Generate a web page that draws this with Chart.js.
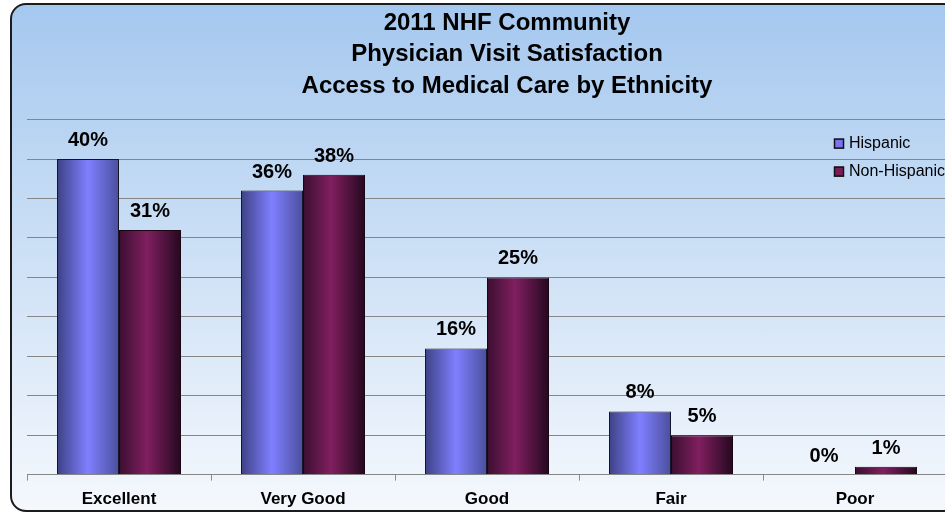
<!DOCTYPE html>
<html>
<head>
<meta charset="utf-8">
<script src="https://cdn.jsdelivr.net/npm/chart.js@4.4.1/dist/chart.umd.min.js"></script>
<style>
    html, body {
        margin: 0;
        padding: 0;
        width: 945px;
        height: 514px;
        overflow: hidden;
        background: #ffffff;
    }
    .frame {
        position: absolute;
        left: 10px;
        top: 3px;
        width: 946px;
        height: 505px;
        border: 2px solid #1c1c1c;
        border-radius: 16px;
        background: linear-gradient(to bottom, #a5c8ef 0%, #c9def5 45%, #f5f8fd 100%);
    }
    #satisfactionChart {
        position: absolute;
        left: 0;
        top: 0;
    }
</style>
</head>
<body>
<div class="frame"></div>
<canvas id="satisfactionChart" width="987" height="524"></canvas>

<script>
// Survey results (% of respondents)
const categories = ['Excellent', 'Very Good', 'Good', 'Fair', 'Poor'];
const hispanic = [40, 36, 16, 8, 0];
const nonHispanic = [31, 38, 25, 5, 1];
const seriesNames = ['Hispanic', 'Non-Hispanic'];
const titleLines = [
    '2011 NHF Community',
    'Physician Visit Satisfaction',
    'Access to Medical Care by Ethnicity'
];

const FONT = 'Arial, "Liberation Sans", sans-serif';
const GROUP_PCT = 0.674;

// Cylinder-like shading across each bar
const hispanicStops = [[0, '#3d4184'], [0.5, '#8080ff'], [1, '#4a4f9c']];
const nonHispanicStops = [[0, '#3b0f31'], [0.45, '#801f5f'], [1, '#250820']];

function barFill(stops, solid) {
    return (c) => {
        const chart = c.chart;
        const xs = chart.scales.x;
        if (c.type !== 'data' || !xs || !chart.chartArea) return solid;
        const center = xs.getPixelForValue(c.dataIndex);
        const w = xs.width / categories.length * GROUP_PCT / 2;
        const left = c.datasetIndex === 0 ? center - w : center;
        const g = chart.ctx.createLinearGradient(left, 0, left + w, 0);
        stops.forEach(s => g.addColorStop(s[0], s[1]));
        return g;
    };
}

// Value labels above each bar
const valueLabels = {
    id: 'valueLabels',
    afterDatasetsDraw(chart) {
        const ctx = chart.ctx;
        ctx.save();
        ctx.font = 'bold 20px ' + FONT;
        ctx.fillStyle = '#000';
        ctx.textAlign = 'center';
        ctx.textBaseline = 'alphabetic';
        chart.data.datasets.forEach((ds, i) => {
            chart.getDatasetMeta(i).data.forEach((bar, j) => {
                ctx.fillText(ds.data[j] + '%', bar.x, bar.y - 13);
            });
        });
        ctx.restore();
    }
};

// Small legend sitting inside the plot, top right
const boxLegend = {
    id: 'boxLegend',
    afterDraw(chart) {
        const ctx = chart.ctx;
        const area = chart.chartArea;
        const x = area.right - 113;
        ctx.save();
        ctx.font = '16px ' + FONT;
        ctx.textBaseline = 'middle';
        ctx.textAlign = 'left';
        chart.data.datasets.forEach((ds, i) => {
            const y = area.top + 24 + i * 28;
            ctx.fillStyle = ds.legendColor;
            ctx.fillRect(x, y - 5, 10, 10);
            ctx.strokeStyle = '#111';
            ctx.lineWidth = 1.5;
            ctx.strokeRect(x + 0.5, y - 4.5, 9, 9);
            ctx.fillStyle = '#000';
            ctx.fillText(ds.label, x + 15, y);
        });
        ctx.restore();
    }
};

document.addEventListener('DOMContentLoaded', () => {
    const ctx = document.getElementById('satisfactionChart').getContext('2d');

    new Chart(ctx, {
        type: 'bar',
        data: {
            labels: categories,
            datasets: [
                {
                    label: seriesNames[0],
                    data: hispanic,
                    backgroundColor: barFill(hispanicStops, '#7070e8'),
                    legendColor: '#7676ee',
                    borderColor: '#15152a',
                    borderWidth: 1
                },
                {
                    label: seriesNames[1],
                    data: nonHispanic,
                    backgroundColor: barFill(nonHispanicStops, '#7a1c58'),
                    legendColor: '#7a1c58',
                    borderColor: '#1a0512',
                    borderWidth: 1
                }
            ]
        },
        options: {
            responsive: false,
            animation: false,
            categoryPercentage: GROUP_PCT,
            barPercentage: 1,
            layout: {
                padding: { left: 27, right: 0, top: 0, bottom: 5 }
            },
            plugins: {
                legend: { display: false },
                tooltip: { enabled: false },
                title: {
                    display: true,
                    text: titleLines,
                    color: '#000',
                    font: { family: FONT, size: 24, weight: 'bold', lineHeight: 1.3 },
                    padding: { top: 8, bottom: 18 }
                }
            },
            scales: {
                x: {
                    grid: {
                        drawOnChartArea: false,
                        drawTicks: true,
                        tickLength: 6,
                        color: '#8c8c8c',
                        offset: true
                    },
                    border: { display: false },
                    ticks: {
                        color: '#000',
                        padding: 9,
                        font: { family: FONT, size: 17, weight: 'bold' }
                    }
                },
                y: {
                    position: 'right',
                    min: 0,
                    max: 45,
                    ticks: { display: false, stepSize: 5 },
                    grid: { color: '#868686', drawTicks: false },
                    border: { display: false },
                    // keeps room on the right so the title centres over the full chart
                    afterFit(scale) { scale.width = 40; }
                }
            }
        },
        plugins: [valueLabels, boxLegend]
    });
});
</script>
</body>
</html>
